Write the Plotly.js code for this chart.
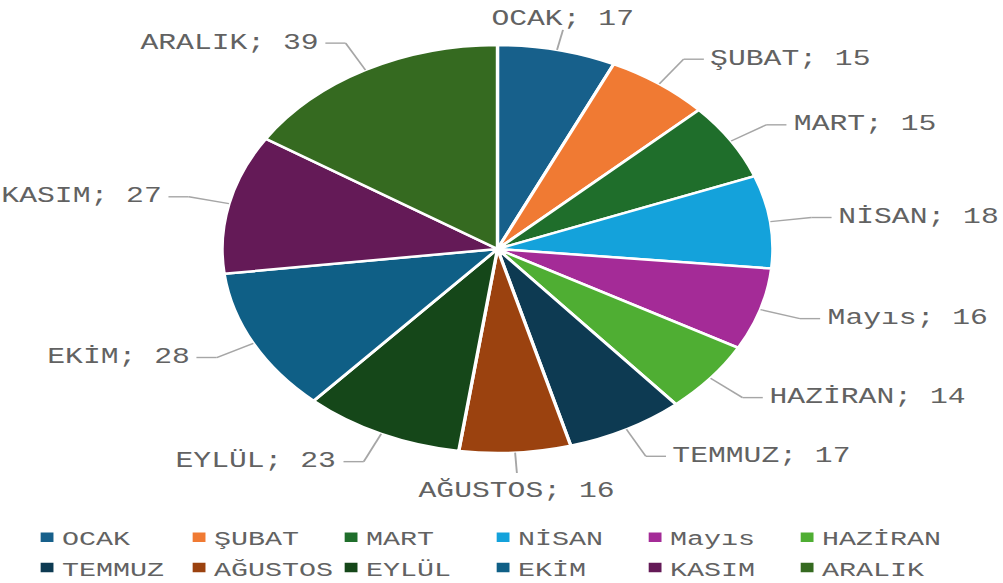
<!DOCTYPE html>
<html>
<head>
<meta charset="utf-8">
<script src="https://cdn.plot.ly/plotly-3.0.1.min.js"></script>
<style>
html,body{margin:0;padding:0;background:#fff;overflow:hidden;width:1003px;height:583px;}
#wrap{width:1003px;height:583px;overflow:hidden;}
#chart{width:743px;height:583px;transform:scaleX(1.35);transform-origin:0 0;}
</style>
</head>
<body>
<div id="wrap"><div id="chart"></div></div>
<script>
// ---- data ----
const months = ["OCAK","ŞUBAT","MART","NİSAN","Mayıs","HAZİRAN","TEMMUZ","AĞUSTOS","EYLÜL","EKİM","KASIM","ARALIK"];
const counts = [17,15,15,18,16,14,17,16,23,28,27,39];
const colors = ["#17608B","#F07A33","#1F6E2B","#14A2DB","#A42B97","#4FAE33","#0D3A52","#9B420F","#154719","#0F5F86","#641A57","#356A20"];

// ---- layout geometry (pre-stretch pixels) ----
const W = 743, H = 583;
const cx = 368.5, cy = 249, R = 204;
const FONT = "'Courier New','Liberation Mono',monospace";
const TXT = "#626262", LINE = "#A6A6A6";

const total = counts.reduce((a,b)=>a+b,0);
const px = x => x / W, py = y => 1 - y / H;

const annotations = [], shapes = [];
let cum = 0;
counts.forEach((v,i)=>{
  const mid = (cum + v/2) / total * 2 * Math.PI;
  cum += v;
  const ux = Math.sin(mid), uy = -Math.cos(mid);
  const ex = cx + R*ux, ey = cy + R*uy;
  const label = months[i] + "; " + v;
  if (Math.abs(ux) < 0.35) {
    const bx = cx + 1.1*R*ux, by = cy + 1.1*R*uy;
    shapes.push({type:'line',xref:'paper',yref:'paper',x0:px(ex),y0:py(ey),x1:px(bx),y1:py(by),line:{color:LINE,width:1.4}});
    annotations.push({xref:'paper',yref:'paper',x:px(bx),y:py(uy<0?by+4:by+3),text:label,showarrow:false,
      xanchor:'center',yanchor:uy<0?'bottom':'top',font:{family:FONT,size:22,color:TXT}});
  } else {
    const bx = cx + 1.15*R*ux, by = cy + 1.15*R*uy;
    const hx = bx + (ux>0?15:-15);
    shapes.push({type:'line',xref:'paper',yref:'paper',x0:px(ex),y0:py(ey),x1:px(bx),y1:py(by),line:{color:LINE,width:1.4}});
    shapes.push({type:'line',xref:'paper',yref:'paper',x0:px(bx),y0:py(by),x1:px(hx),y1:py(by),line:{color:LINE,width:1.4}});
    annotations.push({xref:'paper',yref:'paper',x:px(hx + (ux>0?3:-3)),y:py(by),text:label,showarrow:false,
      xanchor:ux>0?'left':'right',yanchor:'middle',font:{family:FONT,size:22,color:TXT}});
  }
});

const trace = {
  type:'pie', labels:months, values:counts, sort:false, direction:'clockwise', rotation:0,
  marker:{colors:colors, line:{color:'#ffffff', width:2.5}},
  textinfo:'none', hoverinfo:'none',
  domain:{x:[(cx-R)/W,(cx+R)/W], y:[1-(cy+R)/H, 1-(cy-R)/H]}
};

const layout = {
  width:W, height:H, margin:{l:0,r:0,t:0,b:0,autoexpand:false},
  paper_bgcolor:'#ffffff', plot_bgcolor:'#ffffff',
  showlegend:true,
  legend:{orientation:'h', x:0.02, xanchor:'left', y:0.113, yanchor:'top',
    entrywidth:67.6, entrywidthmode:'pixels', traceorder:'normal',
    font:{family:FONT, size:21, color:TXT}, bgcolor:'rgba(0,0,0,0)'},
  annotations:annotations, shapes:shapes
};

Plotly.newPlot('chart',[trace],layout,{staticPlot:true,displayModeBar:false}).then(gd=>{
  // let the last legend column's text run past the legend box, as in the original
  gd.querySelectorAll('.legend .scrollbox').forEach(el=>el.removeAttribute('clip-path'));
  document.querySelectorAll('clipPath[id^="legend"] rect').forEach(r=>r.setAttribute('width', W));
  // tighter gap between swatch and text, as in the original legend
  gd.querySelectorAll('.legend .legendtext').forEach(t=>t.setAttribute('x', 31));
});
</script>
</body>
</html>
